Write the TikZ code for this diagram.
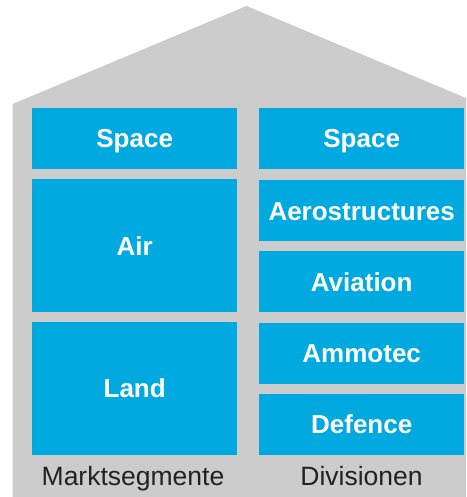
\documentclass[tikz,border=0pt]{standalone}
\usepackage{fontspec}
\setmainfont{Liberation Sans}
\definecolor{houseGray}{HTML}{CCCCCC}
\definecolor{boxBlue}{HTML}{00A9E0}
\definecolor{labelGray}{HTML}{222222}

\begin{document}
\begin{tikzpicture}[x=1pt,y=-1pt,
    blk/.style={fill=boxBlue,text=white,font=\fontsize{26}{30}\selectfont\bfseries,
      minimum width=205pt,inner sep=0pt,text height=18.6pt,text depth=0pt,anchor=north west},
    tall/.style={blk,minimum height=133pt},
    low/.style={blk,minimum height=61pt},
    colcaption/.style={text=labelGray,font=\fontsize{26.5}{30}\selectfont,anchor=base}]
        \useasboundingbox (0,0) rectangle (466,497);
        \clip (0,0) rectangle (466,497);
        \fill[houseGray] (12.7,497)--(12.7,104)--(246.5,6)--(480.3,104)--(480.3,497)--cycle;
        % Marktsegmente
        \node[low]  (spaceM) at (32,108)   {Space};
        \node[tall] (air)    at (32,179)   {Air};
        \node[tall] (land)   at (32,321.7) {Land};
        % Divisionen
        \node[low] (spaceD)   at (259,108)   {Space};
        \node[low] (aero)     at (259,180)   {Aerostructures};
        \node[low] (aviation) at (259,251)   {Aviation};
        \node[low] (ammotec)  at (259,322.7) {Ammotec};
        \node[low] (defence)  at (259,393.7) {Defence};
        \node[colcaption] (markt) at (133,485.5) {Marktsegmente};
        \node[colcaption] (divis) at (361.5,485.5) {Divisionen};
      \end{tikzpicture}
\end{document}
